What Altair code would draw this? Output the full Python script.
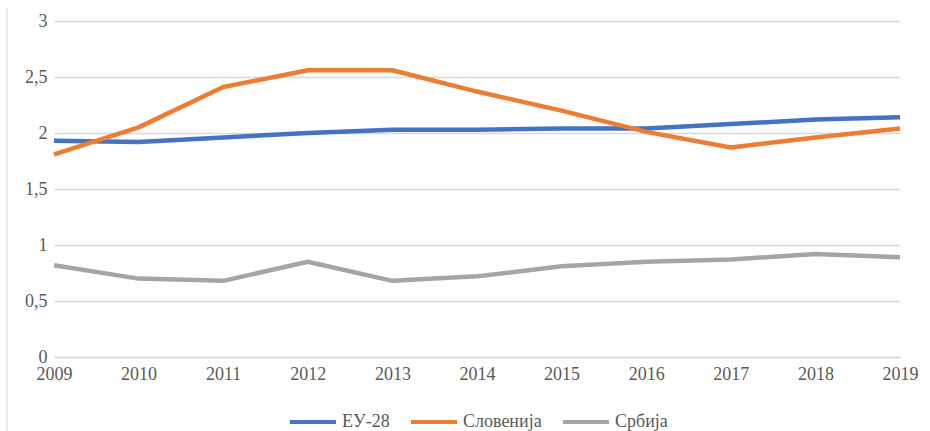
import altair as alt
import pandas as pd

# Годишње вредности по серији
years = [2009, 2010, 2011, 2012, 2013, 2014, 2015, 2016, 2017, 2018, 2019]
eu28 = [1.93, 1.92, 1.96, 2.00, 2.03, 2.03, 2.04, 2.04, 2.08, 2.12, 2.14]
slovenia = [1.81, 2.05, 2.41, 2.56, 2.56, 2.37, 2.20, 2.01, 1.87, 1.96, 2.04]
serbia = [0.82, 0.70, 0.68, 0.85, 0.68, 0.72, 0.81, 0.85, 0.87, 0.92, 0.89]

series_names = ["ЕУ-28", "Словенија", "Србија"]
series_colors = ["#4472C4", "#ED7D31", "#A5A5A5"]
y_ticks = [0, 0.5, 1, 1.5, 2, 2.5, 3]

rows = []
for name, vals in zip(series_names, [eu28, slovenia, serbia]):
    for yr, v in zip(years, vals):
        rows.append({"year": yr, "value": v, "series": name})
df = pd.DataFrame(rows)

FONT = "Liberation Serif"
TEXT = "#595959"
FS = 18

lines = alt.Chart(df).mark_line(strokeWidth=4.5, strokeJoin="round").encode(
    x=alt.X(
        "year:Q",
        scale=alt.Scale(domain=[2009, 2019], nice=False, zero=False),
        axis=alt.Axis(
            values=years, format="d", title=None, grid=False, ticks=False,
            domain=True, domainColor="#d9d9d9", domainWidth=1.5,
            labelPadding=8, labelFlush=False,
            labelFont=FONT, labelFontSize=FS, labelColor=TEXT,
        ),
    ),
    y=alt.Y(
        "value:Q",
        scale=alt.Scale(domain=[0, 3], nice=False),
        axis=alt.Axis(
            values=y_ticks, title=None, domain=False, ticks=False,
            gridColor="#d9d9d9", gridWidth=1.5, labelPadding=7,
            labelExpr="replace(format(datum.value, ''), '.', ',')",
            labelFont=FONT, labelFontSize=FS, labelColor=TEXT,
        ),
    ),
    color=alt.Color(
        "series:N",
        scale=alt.Scale(domain=series_names, range=series_colors),
        legend=alt.Legend(
            title=None, orient="none", direction="horizontal",
            legendX=234, legendY=376,
            symbolType="stroke", symbolSize=2116, symbolStrokeWidth=4,
            labelFontSize=FS, labelFont=FONT, labelColor=TEXT,
            labelOffset=4, columnPadding=13,
        ),
    ),
    order=alt.Order("year:Q"),
)

# тања светлоплава ивица лево
edge = alt.Chart(pd.DataFrame({"k": [0]})).mark_rule(color="#dbe7f5", strokeWidth=1.5).encode(
    x=alt.value(-47), y=alt.value(-13), y2=alt.value(410)
)

chart = (
    alt.layer(edge, lines)
    .properties(
        width=846, height=336,
        autosize=alt.AutoSizeParams(type="none"),
        padding={"left": 54, "top": 21, "right": 30, "bottom": 74},
        background="white",
    )
    .configure_view(stroke=None)
)

chart.save("out.html", embed_options={"renderer": "svg", "actions": False})
